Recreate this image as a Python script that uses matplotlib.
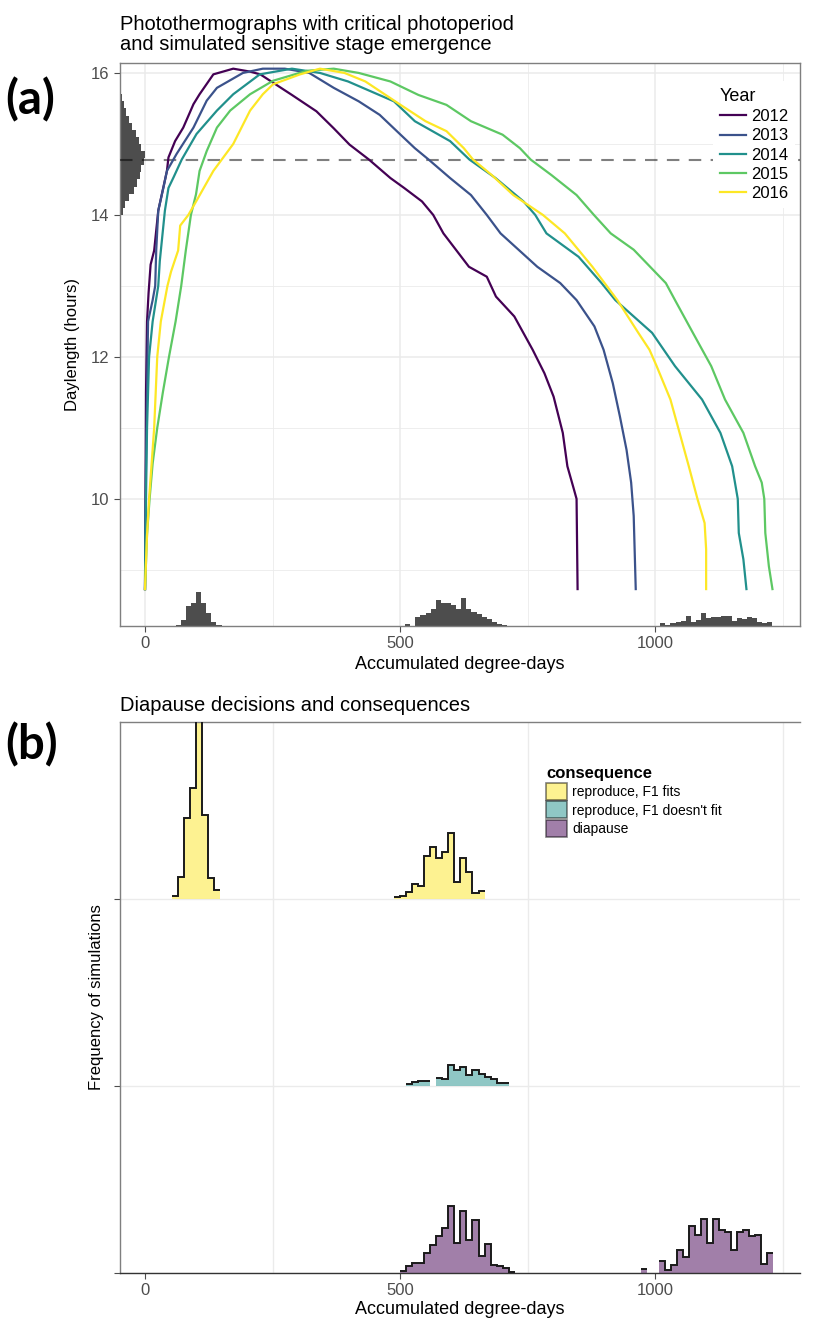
import numpy as np
import matplotlib
matplotlib.use("Agg")
import matplotlib.pyplot as plt
from matplotlib.patches import Patch

plt.rcParams['font.family'] = ['Liberation Sans', 'DejaVu Sans']

# photothermographs: (accumulated degree-days, daylength in hours)
years = ['2012', '2013', '2014', '2015', '2016']
year_colors = ['#440154', '#3B528B', '#21908C', '#5DC863', '#FDE725']

curve_2012 = [(0, 8.73), (1, 10.0), (2, 11.5), (4, 12.5), (7, 12.9), (11, 13.3), (18, 13.5),
              (26, 14.06), (43, 14.62), (46, 14.81), (59, 15.04), (75, 15.23), (95, 15.56),
              (107, 15.70), (134, 15.98), (173, 16.06), (205, 16.02), (226, 15.98), (288, 15.69),
              (336, 15.46), (370, 15.22), (401, 14.99), (439, 14.78), (481, 14.52), (508, 14.38),
              (543, 14.19), (565, 14.0), (585, 13.74), (635, 13.27), (670, 13.13), (688, 12.85),
              (724, 12.57), (760, 12.1), (783, 11.77), (801, 11.44), (819, 10.93), (828, 10.46),
              (841, 10.13), (846, 10.0), (848, 8.73)]
curve_2013 = [(0, 8.73), (1, 10.0), (3, 11.0), (5, 12.0), (6, 12.5), (15, 12.8), (20, 13.0),
              (22, 13.5), (26, 14.06), (36, 14.38), (43, 14.62), (62, 14.86), (95, 15.23),
              (121, 15.61), (141, 15.79), (192, 16.0), (231, 16.06), (274, 16.06), (322, 16.0),
              (370, 15.79), (419, 15.6), (460, 15.41), (501, 15.13), (529, 14.94), (556, 14.78),
              (598, 14.52), (639, 14.28), (670, 14.0), (697, 13.74), (769, 13.27), (814, 13.04),
              (846, 12.8), (881, 12.43), (899, 12.1), (917, 11.63), (931, 11.16), (944, 10.69),
              (953, 10.23), (958, 9.76), (962, 8.73)]
curve_2014 = [(0, 8.73), (2, 10.0), (4, 11.0), (8, 12.0), (15, 12.5), (26, 13.0), (29, 13.35),
              (39, 14.06), (46, 14.38), (56, 14.53), (72, 14.78), (101, 15.14), (141, 15.47),
              (173, 15.70), (225, 15.98), (288, 16.06), (343, 16.0), (398, 15.88), (488, 15.6),
              (529, 15.32), (598, 15.04), (636, 14.78), (687, 14.52), (742, 14.19), (765, 14.0),
              (787, 13.74), (850, 13.41), (895, 13.04), (922, 12.8), (994, 12.34), (1039, 11.87),
              (1092, 11.4), (1128, 10.93), (1151, 10.46), (1162, 10.0), (1164, 9.52),
              (1173, 9.15), (1179, 8.73)]
curve_2015 = [(0, 8.73), (4, 9.5), (9, 10.0), (15, 10.5), (24, 11.0), (35, 11.5), (47, 12.0),
              (60, 12.5), (71, 13.0), (80, 13.5), (90, 14.0), (100, 14.29), (107, 14.62),
              (121, 14.90), (141, 15.23), (167, 15.47), (206, 15.70), (251, 15.89), (317, 16.03),
              (370, 16.06), (419, 16.0), (481, 15.88), (536, 15.69), (591, 15.55), (639, 15.32),
              (701, 15.13), (735, 14.94), (756, 14.78), (797, 14.56), (846, 14.28), (880, 14.0),
              (913, 13.74), (958, 13.51), (1021, 13.04), (1039, 12.8), (1074, 12.34),
              (1110, 11.87), (1137, 11.4), (1173, 10.93), (1196, 10.46), (1209, 10.23),
              (1214, 10.0), (1216, 9.52), (1223, 9.05), (1230, 8.73)]
curve_2016 = [(0, 8.73), (4, 9.5), (8, 10.0), (13, 10.5), (18, 11.0), (21, 11.5), (24, 12.0),
              (31, 12.5), (44, 13.0), (51, 13.2), (65, 13.5), (69, 13.85), (85, 14.0),
              (101, 14.2), (134, 14.62), (173, 15.0), (206, 15.47), (231, 15.70), (251, 15.84),
              (304, 15.98), (343, 16.06), (391, 16.0), (432, 15.88), (501, 15.55), (550, 15.32),
              (591, 15.18), (625, 14.94), (643, 14.78), (680, 14.56), (722, 14.28), (780, 14.0),
              (823, 13.74), (877, 13.27), (926, 12.8), (967, 12.34), (989, 12.1), (1003, 11.87),
              (1030, 11.4), (1048, 10.93), (1066, 10.46), (1083, 10.0), (1097, 9.66),
              (1100, 9.29), (1100, 8.73)]
curves = [curve_2012, curve_2013, curve_2014, curve_2015, curve_2016]

critical_photoperiod = 14.78

# critical photoperiod distribution (0.1 h bins from 13.8 h)
cpp_start, cpp_width = 13.8, 0.1
cpp_counts = [2, 4, 8, 14, 27, 42, 52, 60, 62, 72, 74, 64, 57, 47, 37, 27, 18, 12, 7]

# sensitive stage emergence (10 degree-day bins)
emerge_width = 10
emerge_early_start = 60
emerge_early = [3, 18, 60, 68, 103, 68, 40, 13, 3]
emerge_mid_start = 500
emerge_mid = [0, 6, 0, 27, 33, 40, 50, 78, 68, 70, 62, 52, 83, 52, 42, 37, 28, 20, 12, 7, 4]
emerge_late_start = 970
emerge_late = [1, 0, 0, 0, 8, 4, 10, 13, 16, 30, 13, 18, 40, 23, 26, 28, 31, 31, 16, 25, 20,
               26, 23, 13, 8, 13]

# consequences (bins of 11.8 degree-days starting at 52)
cons_origin, cons_width = 52, 11.8
consequences = ['reproduce, F1 fits', "reproduce, F1 doesn't fit", 'diapause']
cons_colors = ['#FDE725', '#21908C', '#440154']
fits_a_bin, fits_a = 0, [9, 65, 242, 332, 600, 252, 62, 27]
fits_b_bin, fits_b = 37, [5, 9, 22, 45, 40, 129, 155, 122, 140, 199, 50, 122, 82, 17, 25]
nofit_bin, nofit = 39, [5, 13, 16, 16, 0, 23, 22, 62, 48, 57, 32, 48, 35, 28, 20, 8, 10]
diap_a_bin, diap_a = 38, [5, 20, 30, 30, 60, 85, 112, 135, 200, 90, 187, 98, 160, 50, 87, 25,
                          20, 15, 2]
diap_b_bin, diap_b = 78, [12, 0, 0, 35, 10, 25, 70, 47, 140, 115, 163, 90, 163, 128, 123, 70,
                          123, 128, 112, 115, 27, 60]

xlim = (-49, 1284)
grid_col = '#EBEBEB'
tick_col = '#4D4D4D'
hist_col = '#4D4D4D'

fig = plt.figure(figsize=(8.17, 13.19), dpi=100)
ax1 = fig.add_axes([120 / 817, 1 - 626 / 1319, 680 / 817, 563 / 1319])
ax2 = fig.add_axes([120 / 817, 1 - 1273 / 1319, 680 / 817, 551 / 1319])

# ---- (a) photothermographs ----
ylim1 = (8.21, 16.14)
ax1.set_xlim(*xlim)
ax1.set_ylim(*ylim1)
ax1.set_xticks([0, 500, 1000])
ax1.set_xticks([250, 750, 1250], minor=True)
ax1.set_yticks([10, 12, 14, 16])
ax1.set_yticks([9, 11, 13, 15], minor=True)
ax1.grid(True, which='major', color=grid_col, lw=1.1, zorder=0)
ax1.grid(True, which='minor', color=grid_col, lw=0.6, zorder=0)
ax1.set_axisbelow(True)

edges = cpp_start + cpp_width * np.arange(len(cpp_counts) + 1)
ax1.stairs(np.array(cpp_counts) / 3 / 0.51 + xlim[0], edges, baseline=xlim[0],
           orientation='horizontal', fill=True, color=hist_col, zorder=2)

hour_per_count = 1 / 3 / 71
for start, counts in [(emerge_early_start, emerge_early), (emerge_mid_start, emerge_mid),
                      (emerge_late_start, emerge_late)]:
    e = start + emerge_width * np.arange(len(counts) + 1)
    ax1.stairs(ylim1[0] + np.array(counts) * hour_per_count, e, baseline=ylim1[0],
               fill=True, color=hist_col, zorder=2)

ax1.axhline(critical_photoperiod, color='black', alpha=0.5, lw=1.5, dashes=(6, 4.5), zorder=3)

for yr, col, pts in zip(years, year_colors, curves):
    pts = np.array(pts)
    ax1.plot(pts[:, 0], pts[:, 1], color=col, lw=1.6, label=yr, zorder=4,
             solid_joinstyle='round')

leg1 = ax1.legend(title='Year', loc='upper left', bbox_to_anchor=(0.86, 0.982),
                  frameon=True, fontsize=12, title_fontsize=13, handlelength=1.6,
                  handletextpad=0.3, labelspacing=0.25, borderpad=0.4, fancybox=False)
leg1.get_frame().set_edgecolor('none')
leg1.get_frame().set_alpha(1)
leg1._legend_box.align = 'left'
leg1.set_zorder(5)

ax1.set_xlabel('Accumulated degree-days', fontsize=13, labelpad=3)
ax1.set_ylabel('Daylength (hours)', fontsize=12, labelpad=8)
ax1.set_title('Photothermographs with critical photoperiod\nand simulated sensitive stage emergence',
              loc='left', fontsize=14.5, pad=9, linespacing=1.1)

# ---- (b) consequences ----
ax2.set_xlim(*xlim)
ax2.set_ylim(0, 2.947)
ax2.set_xticks([0, 500, 1000])
ax2.set_xticks([0, 250, 500, 750, 1000, 1250], minor=True)
ax2.set_yticks([0, 1, 2])
ax2.set_yticklabels([])
ax2.grid(True, axis='x', which='minor', color=grid_col, lw=1.0, zorder=0)
ax2.grid(True, axis='y', which='major', color=grid_col, lw=1.0, zorder=0)
ax2.set_axisbelow(True)

y_per_count = 1 / 3 / 187
ridges = [(2, 0, fits_a_bin, fits_a), (2, 0, fits_b_bin, fits_b),
          (1, 1, nofit_bin, nofit),
          (0, 2, diap_a_bin, diap_a), (0, 2, diap_b_bin, diap_b)]
for base, ci, k0, counts in ridges:
    counts = np.array(counts, dtype=float)
    # split into runs of non-empty bins
    nz = counts > 0
    i = 0
    while i < len(counts):
        if not nz[i]:
            i += 1
            continue
        j = i
        while j < len(counts) and nz[j]:
            j += 1
        seg = counts[i:j]
        e = cons_origin + cons_width * (k0 + np.arange(i, j + 1))
        vals = base + seg * y_per_count
        ax2.stairs(vals, e, baseline=base, fill=True, color=cons_colors[ci], alpha=0.5,
                   lw=0, zorder=2)
        ax2.stairs(vals, e, baseline=None, color='#1A1A1A', lw=1.4, zorder=3)
        i = j

handles = [Patch(facecolor=c, alpha=0.5, edgecolor='black', lw=1.2) for c in cons_colors]
leg2 = ax2.legend(handles, consequences, title='consequence', loc='upper left',
                  bbox_to_anchor=(0.61, 0.94), fontsize=10, title_fontsize=12,
                  handlelength=1.5, handleheight=1.5, handletextpad=0.4, labelspacing=0.12,
                  borderpad=0.3, frameon=True, fancybox=False)
leg2.get_frame().set_edgecolor('none')
leg2._legend_box.align = 'left'
leg2.get_title().set_fontweight('bold')
leg2.set_zorder(5)

ax2.set_xlabel('Accumulated degree-days', fontsize=13, labelpad=2)
ax2.set_ylabel('Frequency of simulations', fontsize=12, labelpad=4)
ax2.set_title('Diapause decisions and consequences', loc='left', fontsize=14.5, pad=8)

for ax in (ax1, ax2):
    ax.tick_params(which='major', length=4, color=tick_col, labelcolor=tick_col,
                   labelsize=12, width=0.8)
    ax.tick_params(which='minor', length=0)
    for s in ax.spines.values():
        s.set_color('#7F7F7F')
        s.set_linewidth(1.0)
ax2.spines['bottom'].set_color('#333333')
ax2.spines['right'].set_visible(False)

fig.text(5 / 817, 1 - 100 / 1319, '(a)', fontsize=34, fontweight='bold', family='Lato',
         va='center', ha='left')
fig.text(5 / 817, 1 - 745 / 1319, '(b)', fontsize=34, fontweight='bold', family='Lato',
         va='center', ha='left')

fig.savefig('out.png', dpi=100)
